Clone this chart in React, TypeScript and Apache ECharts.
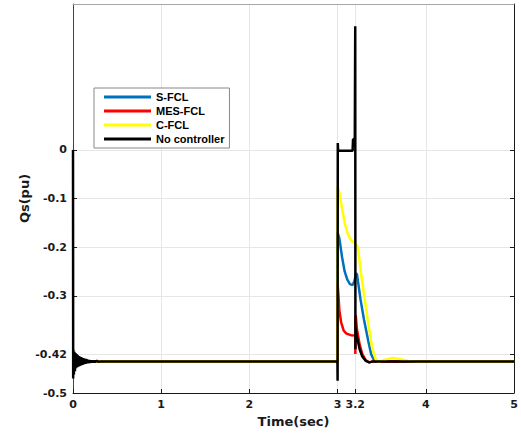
import React, { useEffect, useRef } from "react";
import * as echarts from "echarts";

// ---- Data (time in sec, Qs in pu) ----
const xTicks = [0, 1, 2, 3, 3.2, 4, 5];
const yTicks = [-0.5, -0.42, -0.3, -0.2, -0.1, 0];
const seriesNames = ["S-FCL", "MES-FCL", "C-FCL", "No controller"];

const sfclData: [number, number][] = [
  [0, -0.435], [2.999, -0.435], [3.0, -0.17], [3.02, -0.182], [3.05, -0.22],
  [3.08, -0.25], [3.11, -0.267], [3.14, -0.276], [3.17, -0.278], [3.19, -0.27],
  [3.21, -0.254], [3.22, -0.256], [3.26, -0.308], [3.3, -0.35], [3.35, -0.395],
  [3.38, -0.42], [3.42, -0.435], [5, -0.435],
];

const mesfclData: [number, number][] = [
  [0, -0.435], [2.999, -0.435], [3.0, -0.275], [3.01, -0.3], [3.02, -0.33],
  [3.04, -0.355], [3.07, -0.372], [3.1, -0.378], [3.15, -0.381], [3.2, -0.382],
  [3.201, -0.42], [3.205, -0.34], [3.22, -0.37], [3.25, -0.4], [3.28, -0.42],
  [3.32, -0.433], [3.36, -0.437], [3.4, -0.435], [5, -0.435],
];

const cfclData: [number, number][] = [
  [0, -0.435], [2.999, -0.435], [3.0, -0.075], [3.02, -0.087], [3.05, -0.12],
  [3.08, -0.15], [3.11, -0.17], [3.14, -0.182], [3.17, -0.189], [3.2, -0.192],
  [3.23, -0.2], [3.27, -0.26], [3.31, -0.31], [3.35, -0.36], [3.39, -0.405],
  [3.43, -0.43], [3.46, -0.436], [3.55, -0.431], [3.62, -0.428], [3.7, -0.43],
  [3.8, -0.434], [3.9, -0.435], [5, -0.435],
];

const noCtrlData: [number, number][] = [
  [0, 0], [0.002, -0.47], [0.004, -0.41], [0.01, -0.462], [0.016, -0.415],
  [0.022, -0.455], [0.028, -0.418], [0.034, -0.449], [0.04, -0.42], [0.046, -0.447],
  [0.052, -0.422], [0.058, -0.446], [0.064, -0.424], [0.07, -0.445], [0.076, -0.425],
  [0.082, -0.444], [0.088, -0.426], [0.094, -0.443], [0.1, -0.427], [0.106, -0.442],
  [0.112, -0.428], [0.118, -0.441], [0.124, -0.429], [0.13, -0.44], [0.136, -0.43],
  [0.142, -0.44], [0.148, -0.43], [0.154, -0.439], [0.16, -0.431], [0.166, -0.439],
  [0.172, -0.432], [0.178, -0.438], [0.184, -0.432], [0.19, -0.438], [0.2, -0.433],
  [0.21, -0.437], [0.22, -0.433], [0.23, -0.437], [0.24, -0.434], [0.25, -0.436],
  [0.27, -0.434], [0.29, -0.436], [0.31, -0.435], [2.998, -0.435], [3.0, -0.475],
  [3.002, 0.014], [3.006, -0.002], [3.17, -0.002], [3.175, 0.022], [3.195, 0.022],
  [3.2, 0.254], [3.202, -0.41], [3.205, -0.365], [3.22, -0.385], [3.25, -0.41],
  [3.28, -0.425], [3.32, -0.434], [3.36, -0.437], [3.4, -0.435], [5, -0.435],
];

const colors = ["#0072BD", "#FF0000", "#FFFF00", "#000000"];

const FONT = "DejaVu Sans";
const LEGEND_FONT = "Liberation Sans";
const AX = "#1a1a1a";
const GRID = "#e6e6e6";

export default function App() {
  const ref = useRef<HTMLDivElement>(null);
  useEffect(() => {
    if (!ref.current) return;
    const chart = echarts.init(ref.current, null, { renderer: "svg" });
    const labelStyle = {
      fontFamily: FONT,
      fontWeight: "bold" as const,
      fontSize: 11,
      color: AX,
    };
    chart.setOption({
      animation: false,
      backgroundColor: "#ffffff",
      grid: { left: 73, right: 7, top: 4, bottom: 41, containLabel: false },
      legend: {
        data: seriesNames,
        orient: "vertical",
        left: 94,
        top: 88,
        icon: "rect",
        itemWidth: 47,
        itemHeight: 3,
        itemGap: 2,
        padding: [3, 5, 3, 10],
        borderColor: "#888888",
        borderWidth: 1,
        backgroundColor: "#ffffff",
        textStyle: {
          fontFamily: LEGEND_FONT,
          fontWeight: "bold",
          fontSize: 11,
          lineHeight: 12,
          color: "#000",
        },
      },
      xAxis: [
        {
          type: "value",
          min: 0,
          max: 5,
          position: "bottom",
          name: "Time(sec)",
          nameLocation: "middle",
          nameGap: 22,
          nameMoveOverlap: false,
          nameTextStyle: { fontFamily: FONT, fontWeight: "bold", fontSize: 13, color: AX },
          axisLine: { show: true, onZero: false, lineStyle: { color: AX, width: 1 } },
          axisTick: { show: true, inside: true, length: 4, customValues: xTicks, lineStyle: { color: AX } },
          axisLabel: { ...labelStyle, margin: 6, customValues: xTicks, formatter: (v: number) => String(v) },
          splitLine: { show: true, lineStyle: { color: GRID, width: 1 } },
        },
        {
          type: "value",
          min: 0,
          max: 5,
          position: "top",
          axisLine: { show: true, onZero: false, lineStyle: { color: "#a6a6a6", width: 1 } },
          axisTick: { show: false },
          axisLabel: { show: false },
          splitLine: { show: false },
        },
      ],
      yAxis: [
        {
          type: "value",
          min: -0.5,
          max: 0.3,
          position: "left",
          name: "Qs(pu)",
          nameLocation: "middle",
          nameGap: 42,
          nameMoveOverlap: false,
          nameTextStyle: { fontFamily: FONT, fontWeight: "bold", fontSize: 13, color: AX },
          axisLine: { show: true, onZero: false, lineStyle: { color: "#444444", width: 1 } },
          axisTick: { show: true, inside: true, length: 4, customValues: yTicks, lineStyle: { color: AX } },
          axisLabel: { ...labelStyle, margin: 6, customValues: yTicks, formatter: (v: number) => String(v) },
          splitLine: { show: true, lineStyle: { color: GRID, width: 1 } },
        },
        {
          type: "value",
          min: -0.5,
          max: 0.3,
          position: "right",
          axisLine: { show: true, onZero: false, lineStyle: { color: AX, width: 1 } },
          axisTick: { show: true, inside: true, length: 4, customValues: yTicks, lineStyle: { color: AX } },
          axisLabel: { show: false, customValues: yTicks },
          splitLine: { show: false },
        },
      ],
      series: [
        { name: seriesNames[0], data: sfclData, color: colors[0] },
        { name: seriesNames[1], data: mesfclData, color: colors[1] },
        { name: seriesNames[2], data: cfclData, color: colors[2] },
        { name: seriesNames[3], data: noCtrlData, color: colors[3] },
      ].map((s) => ({
        ...s,
        type: "line",
        xAxisIndex: 0,
        yAxisIndex: 0,
        showSymbol: false,
        symbol: "none",
        lineStyle: { width: 2.5, color: s.color },
        itemStyle: { color: s.color },
      })),
    });
    return () => chart.dispose();
  }, []);
  return (
    <div
      ref={ref}
      style={{ position: "fixed", left: 0, top: 0, width: 521, height: 434, background: "#fff" }}
    />
  );
}
